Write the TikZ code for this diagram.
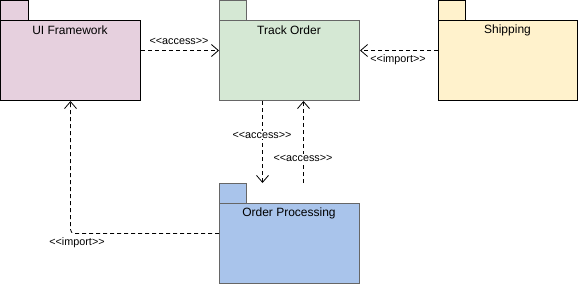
\documentclass[tikz,border=0pt]{standalone}
\usepackage{fontspec}
\setmainfont{Liberation Sans}
\usetikzlibrary{arrows.meta}
\definecolor{uipink}{RGB}{230,208,222}
\definecolor{trackgreen}{RGB}{213,232,212}
\definecolor{shipyellow}{RGB}{255,242,204}
\definecolor{procblue}{RGB}{169,196,235}
\definecolor{pkggray}{RGB}{102,102,102}
\tikzset{
  pkg/.style={draw=#1,line width=1pt,minimum width=140,minimum height=80,inner sep=0pt,anchor=north west},
  pkgtitle/.style={font=\fontsize{12}{14}\selectfont,inner sep=0pt},
  dep/.style={draw=black,line width=0.8pt,dash pattern=on 4pt off 3pt,-{Straight Barb[length=7pt,width=12pt,line width=0.8pt]}},
  deplabel/.style={font=\fontsize{10.8}{12}\selectfont,fill=white,inner sep=1pt}
}
\begin{document}
\begin{tikzpicture}[x=1pt,y=-1pt]
\path[use as bounding box] (0,0) rectangle (578,284);
% packages
\node[pkg=black,fill=uipink] (ui) at (0,20) {};
\draw[black,line width=1pt,fill=uipink] (ui.north west) rectangle ++(28,-20);
\node[pkgtitle] (uititle) at (70,30) {UI Framework};
\node[pkg=pkggray,fill=trackgreen] (track) at (219,20) {};
\draw[pkggray,line width=1pt,fill=trackgreen] (track.north west) rectangle ++(27,-20);
\node[pkgtitle] (tracktitle) at (289,30) {Track Order};
\node[pkg=black,fill=shipyellow,minimum width=139] (ship) at (438,20) {};
\draw[black,line width=1pt,fill=shipyellow] (ship.north west) rectangle ++(27,-20);
\node[pkgtitle] (shiptitle) at (507.5,30) {Shipping};
\node[pkg=pkggray,fill=procblue] (proc) at (219,203) {};
\draw[pkggray,line width=1pt,fill=procblue] (proc.north west) rectangle ++(27,-20);
\node[pkgtitle] (proctitle) at (289,213) {Order Processing};
% dependencies
\draw[dep] ([yshift=10]ui.east) -- ([yshift=10]track.west);
\draw[dep] ([yshift=10]ship.west) -- ([yshift=10]track.east);
\draw[dep] ([xshift=-27]track.south) -- ([shift={(-27,-20)}]proc.north);
\draw[dep] ([shift={(14,-20)}]proc.north) -- ([xshift=14]track.south);
\draw[dep,rounded corners=4] ([yshift=10]proc.west) -| (ui.south);
% labels
\node[deplabel] (l1) at (179,41) {<{}<access>{}>};
\node[deplabel] (l2) at (398,60) {<{}<import>{}>};
\node[deplabel] (l3) at (262,135) {<{}<access>{}>};
\node[deplabel] (l4) at (303,158) {<{}<access>{}>};
\node[deplabel] (l5) at (77,243) {<{}<import>{}>};
\end{tikzpicture}
\end{document}
